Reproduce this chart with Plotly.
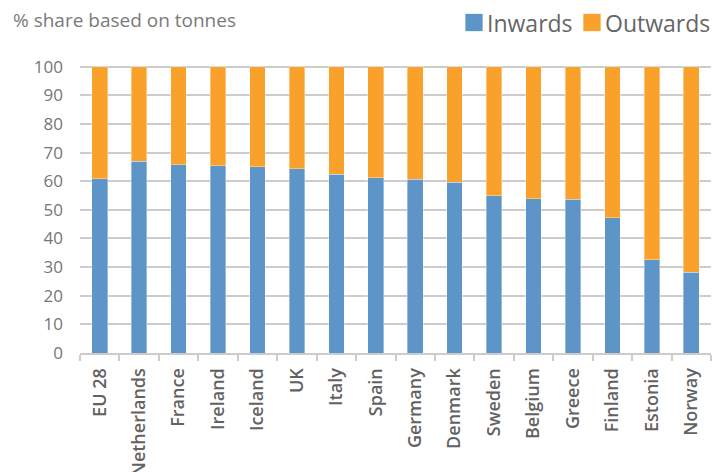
import plotly.graph_objects as go

countries = ["EU 28", "Netherlands", "France", "Ireland", "Iceland", "UK", "Italy", "Spain",
             "Germany", "Denmark", "Sweden", "Belgium", "Greece", "Finland", "Estonia", "Norway"]
inwards = [60.8, 66.9, 65.8, 65.4, 65.0, 64.3, 62.5, 61.3, 60.7, 59.6, 54.9, 53.8, 53.7, 47.3, 32.6, 28.2]
outwards = [round(100 - v, 1) for v in inwards]
series_names = ["Inwards", "Outwards"]

BLUE = "#5E95C9"
ORANGE = "#F9A12A"
FONT = "Open Sans"

W, H = 713, 472
ML, MR, MT, MB = 80, 2, 65, 119
PW, PH = W - ML - MR, H - MT - MB

fig = go.Figure()
for name, vals, col in zip(series_names, [inwards, outwards], [BLUE, ORANGE]):
    fig.add_trace(go.Bar(name=name, x=countries, y=vals, marker_color=col, showlegend=False,
                         marker_line=dict(color="rgba(255,255,255,0.6)", width=0.6)))

fig.update_layout(
    barmode="stack",
    bargap=0.605,
    width=W, height=H,
    margin=dict(l=ML, r=MR, t=MT, b=MB, autoexpand=False),
    plot_bgcolor="white", paper_bgcolor="white",
    font=dict(family=FONT, color="#767676"),
    showlegend=False,
)

def px(x):
    return (x - ML) / PW

def py(y):
    return (H - MB - y) / PH

# title
fig.add_annotation(text="% share based on tonnes", xref="paper", yref="paper",
                   x=px(11), y=py(20), xanchor="left", yanchor="middle",
                   showarrow=False, font=dict(size=19, color="#7a7a7a", family=FONT))

# manual legend (squares + labels)
legend_items = [(465, "Inwards", BLUE), (583, "Outwards", ORANGE)]
for x0, label, col in legend_items:
    fig.add_shape(type="rect", xref="paper", yref="paper",
                  x0=px(x0), x1=px(x0 + 18), y0=py(31.5), y1=py(13.5),
                  fillcolor=col, line=dict(color="rgba(255,255,255,0.7)", width=1))
    fig.add_annotation(text=label, xref="paper", yref="paper",
                       x=px(x0 + 20), y=py(22.5), xanchor="left", yanchor="middle",
                       showarrow=False, font=dict(size=23, color="#666666", family=FONT))

fig.update_yaxes(range=[0, 100.6], tickvals=list(range(0, 101, 10)), showgrid=True,
                 gridcolor="#cccccc", gridwidth=2, zeroline=False, showline=False,
                 automargin=False,
                 tickfont=dict(size=17, color="#767676"), ticks="", ticklabelstandoff=16)
fig.update_xaxes(showline=True, linecolor="#cccccc", linewidth=2, ticks="outside",
                 tickson="boundaries", ticklen=6, tickcolor="#cccccc", tickwidth=2,
                 tickangle=-90, ticklabelstandoff=6, automargin=False,
                 tickfont=dict(size=18, color="#626262", family=FONT, weight=600),
                 range=[-0.5, 15.5])

fig.write_html("out.html")
